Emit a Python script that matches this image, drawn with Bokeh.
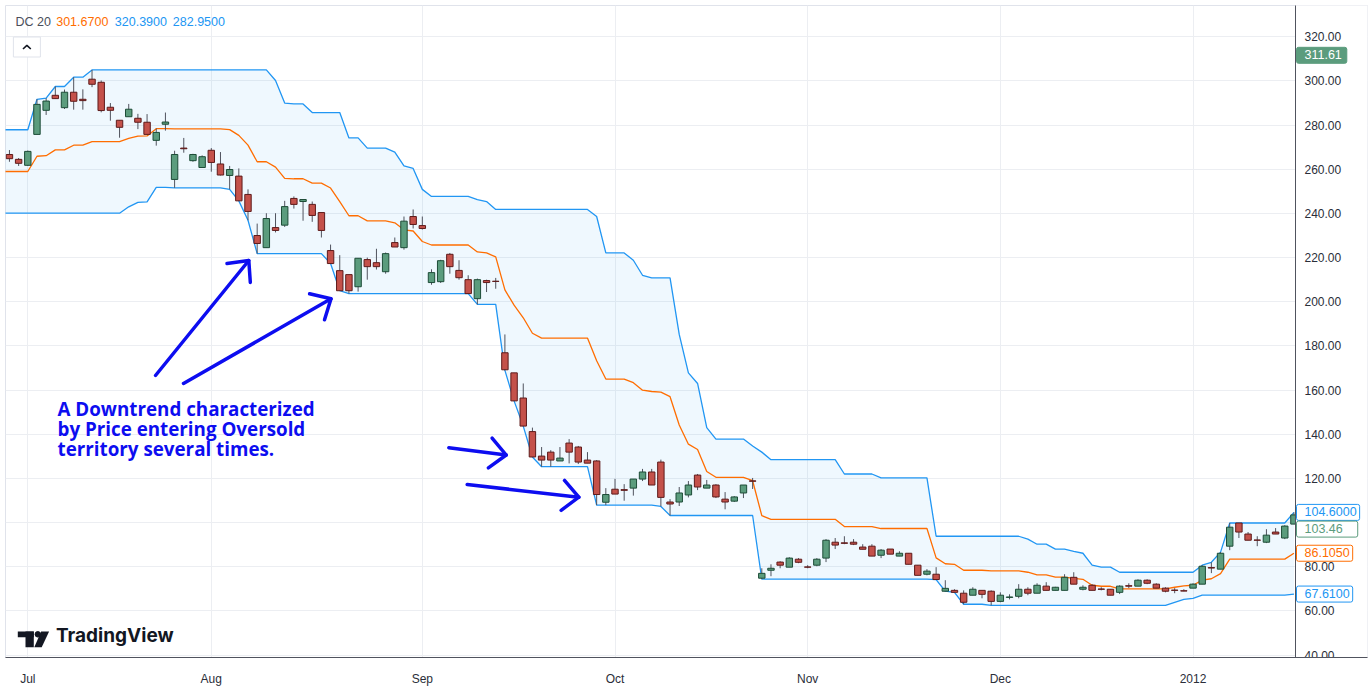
import math
from bokeh.plotting import figure
from bokeh.models import ColumnDataSource, FixedTicker, Label, Range1d
from bokeh.core.properties import value
from bokeh.embed import file_html
from bokeh.resources import INLINE

# ---------------- data ----------------
month_labels = ["Jul", "Aug", "Sep", "Oct", "Nov", "Dec", "2012"]
month_bars = [2, 22, 45, 66, 87, 108, 129]
price_ticks = [40, 60, 80, 100, 120, 140, 160, 180, 200, 220, 240, 260, 280, 300, 320]

# June 2011 bars (off screen) - only seed the 20-bar Donchian window
june_high = [271.0, 268.5, 266.0, 269.0, 272.5, 277.9, 270.0, 263.5, 259.0, 255.0,
             251.5, 250.0, 249.0, 252.0, 255.5, 257.0, 262.0, 264.0, 266.5, 268.0]
june_low = [262.0, 259.5, 257.0, 260.0, 263.0, 264.0, 256.0, 250.5, 248.0, 246.5,
            244.0, 242.5, 241.0, 240.1, 243.0, 245.0, 245.2, 253.0, 251.8, 258.0]

opens = [
    266.7, 264.5, 261.8, 275.8, 286.7, 293.5, 287.9, 294.9, 291.7, 300.8,
    299.4, 288.1, 282.2, 283.8, 283.1, 281.3, 273.1, 280.4, 255.4, 269.6,
    263.9, 260.8, 268.6, 262.4, 257.2, 256.9, 248.6, 230.0, 224.5, 233.6,
    234.7, 246.8, 245.4, 244.1, 240.4, 223.2, 214.1, 212.3, 206.8, 219.1,
    217.7, 213.6, 226.8, 224.5, 238.6, 234.5, 208.7, 209.1, 221.5, 214.2,
    210.0, 201.4, 209.6, 209.3, 176.9, 167.8, 156.4, 141.2, 130.1, 131.9,
    127.9, 136.0, 134.2, 128.3, 127.9, 109.2, 115.1, 114.9, 115.6, 119.7,
    122.9, 127.4, 109.3, 109.3, 112.5, 121.5, 115.6, 117.0, 110.6, 109.7,
    113.4, 118.9, 74.8, 78.4, 82.1, 79.8, 83.4, 79.9, 80.7, 83.9,
    91.1, 90.8, 91.1, 88.9, 89.3, 85.2, 88.0, 84.8, 86.1, 80.7,
    76.6, 76.6, 68.9, 69.3, 68.0, 67.1, 69.3, 68.9, 64.3, 66.1,
    66.6, 69.8, 68.0, 71.2, 69.3, 69.3, 75.2, 69.8, 71.6, 69.9,
    69.8, 68.4, 71.4, 71.2, 73.9, 72.1, 70.3, 69.4, 69.1, 70.3,
    72.1, 79.6, 78.9, 89.3, 99.8, 94.8, 92.1, 91.1, 95.7, 93.0,
    99.3]
highs = [
    268.7, 265.1, 268.5, 291.7, 292.2, 297.5, 296.1, 301.7, 296.2, 305.0,
    300.2, 290.0, 282.2, 289.6, 285.1, 285.0, 278.5, 285.7, 268.4, 274.2,
    267.0, 266.3, 269.6, 267.8, 261.5, 260.4, 250.9, 235.4, 240.1, 240.1,
    245.7, 247.7, 246.3, 245.4, 240.4, 225.9, 221.1, 212.3, 219.7, 220.0,
    224.0, 222.3, 229.1, 238.6, 241.8, 238.6, 214.7, 219.0, 222.1, 218.8,
    212.0, 210.5, 210.0, 210.8, 185.2, 167.8, 163.0, 143.0, 134.2, 132.8,
    134.2, 137.8, 134.7, 131.9, 128.3, 115.6, 119.8, 117.4, 119.7, 124.3,
    124.3, 128.5, 110.6, 116.1, 118.8, 122.0, 119.3, 117.4, 113.8, 112.0,
    117.0, 120.2, 79.3, 81.1, 82.5, 84.3, 83.9, 80.7, 83.9, 92.5,
    93.0, 93.8, 92.5, 90.2, 90.2, 88.0, 88.0, 87.0, 86.1, 80.7,
    78.9, 79.8, 73.9, 69.8, 69.3, 70.7, 69.3, 69.3, 68.4, 67.5,
    72.1, 70.7, 72.5, 73.0, 70.9, 76.6, 77.5, 71.6, 72.1, 70.7,
    69.8, 71.6, 72.5, 74.3, 74.3, 72.5, 70.7, 70.3, 69.8, 72.5,
    80.7, 82.0, 86.6, 99.8, 99.8, 95.7, 93.8, 97.0, 97.5, 98.8,
    104.6]
lows = [
    263.4, 261.5, 261.5, 275.8, 284.6, 292.0, 287.3, 287.0, 287.0, 297.2,
    285.8, 282.0, 274.3, 283.8, 278.2, 275.8, 270.7, 277.5, 251.6, 267.5,
    263.4, 260.8, 258.9, 257.2, 250.9, 245.7, 236.9, 221.8, 224.5, 231.4,
    233.9, 242.2, 236.7, 236.2, 229.1, 217.3, 205.0, 203.7, 204.6, 210.0,
    214.6, 212.7, 224.8, 223.6, 233.2, 232.7, 207.7, 208.5, 212.7, 210.0,
    203.7, 198.8, 204.4, 205.9, 168.9, 155.1, 143.7, 129.7, 125.3, 125.3,
    127.9, 126.8, 126.5, 126.9, 107.9, 107.9, 112.9, 109.9, 112.2, 118.8,
    117.0, 107.3, 103.2, 107.5, 111.4, 114.7, 115.6, 111.1, 106.0, 109.3,
    111.1, 115.2, 74.4, 75.7, 79.3, 79.8, 81.6, 79.3, 80.2, 82.1,
    88.0, 90.2, 89.8, 87.9, 84.8, 83.9, 85.7, 84.8, 81.1, 76.1,
    76.1, 74.2, 68.9, 68.4, 63.0, 67.1, 65.7, 62.5, 63.9, 65.2,
    65.7, 67.1, 68.0, 69.3, 69.3, 69.3, 72.1, 69.3, 69.3, 69.3,
    67.1, 67.61, 70.3, 71.2, 72.1, 70.3, 68.4, 68.0, 68.9, 70.3,
    72.1, 77.1, 78.9, 87.5, 93.0, 92.0, 89.3, 90.7, 94.8, 92.5,
    99.3]
closes = [
    264.8, 262.7, 268.1, 289.4, 290.9, 292.0, 294.9, 290.8, 291.1, 298.5,
    286.6, 286.7, 279.0, 287.2, 281.3, 275.8, 276.7, 281.4, 266.7, 269.3,
    266.7, 265.7, 263.1, 257.4, 259.9, 245.7, 240.9, 226.4, 237.7, 232.3,
    243.1, 244.1, 246.3, 239.1, 232.3, 217.3, 205.0, 205.0, 219.7, 215.9,
    215.9, 221.8, 224.8, 236.5, 235.0, 233.2, 213.2, 218.6, 215.9, 210.9,
    203.7, 210.0, 208.7, 209.2, 169.2, 155.1, 143.7, 129.7, 128.3, 128.3,
    129.2, 131.9, 127.4, 126.9, 112.7, 112.7, 112.9, 114.6, 119.7, 122.9,
    117.0, 111.4, 108.4, 113.4, 117.0, 116.1, 117.0, 111.6, 109.3, 111.6,
    117.0, 118.7, 77.0, 79.3, 80.7, 83.9, 82.0, 79.8, 83.4, 92.0,
    89.8, 90.6, 90.2, 87.9, 84.8, 87.5, 85.7, 86.1, 81.1, 76.1,
    78.0, 74.2, 70.2, 68.4, 63.9, 69.8, 67.5, 64.3, 67.1, 66.3,
    69.8, 68.0, 71.6, 69.3, 70.7, 75.2, 72.1, 70.7, 69.3, 69.8,
    67.1, 71.2, 71.2, 73.9, 72.5, 70.3, 68.9, 69.3, 69.0, 72.1,
    80.2, 79.4, 86.1, 97.9, 95.7, 92.0, 92.0, 94.3, 94.8, 98.4,
    103.46]

dc_length = 20
legend_values = ["301.6700", "320.3900", "282.9500"]
tag_close = 103.46
tag_cursor = 311.61

# ---------------- Donchian channel ----------------
full_high = june_high + highs
full_low = june_low + lows
n_pre = len(june_high)
band_x, upper, lower, basis = [], [], [], []
for i in range(-1, len(highs)):
    k = i + n_pre
    hi = max(full_high[k - dc_length + 1:k + 1])
    lo = min(full_low[k - dc_length + 1:k + 1])
    band_x.append(i)
    upper.append(hi)
    lower.append(lo)
    basis.append((hi + lo) / 2)

# ---------------- styling helpers (pixel -> data, for annotation placement) ----------------
X0, DX = 8.95, 9.175          # pixel of bar 0, pixels per bar
def px2x(px):
    return (px - X0) / DX
def px2y(py):
    return 320 - (py - 36.3) / 2.208

GREEN_F, GREEN_L = "#5b9c7d", "#1d4c37"
RED_F, RED_L = "#c4514a", "#5e1b1b"
BLUE, ORANGE = "#2196f3", "#ff6d00"
NOTE = "#0d0df0"
AXIS = "#50535e"
FONT = "Liberation Sans"

Y_BOT, Y_TOP = px2y(657), px2y(5)
p = figure(frame_width=1362, frame_height=652,
           x_range=Range1d(px2x(5), px2x(1367)),
           y_range=Range1d(Y_BOT, Y_TOP),
           output_backend="svg", toolbar_location=None,
           y_axis_location="right",
           min_border_left=5, min_border_top=5, min_border_right=5, min_border_bottom=30)
p.background_fill_color = "white"
p.border_fill_color = "white"
p.outline_line_color = "#e0e3eb"

p.xgrid.grid_line_color = "#eceef2"
p.ygrid.grid_line_color = "#eceef2"

p.xaxis.ticker = FixedTicker(ticks=month_bars)
p.xaxis.major_label_overrides = {b: m for b, m in zip(month_bars, month_labels)}
p.yaxis.ticker = FixedTicker(ticks=price_ticks)
p.yaxis.visible = False
ax = p.xaxis[0]
ax.axis_line_color = AXIS
ax.major_tick_line_color = None
ax.minor_tick_line_color = None
ax.major_label_text_font = FONT
ax.major_label_text_font_size = "12px"
ax.major_label_text_color = "#2a2e39"
ax.major_label_standoff = 8

# channel
p.varea(x=band_x, y1=lower, y2=upper, fill_color=BLUE, fill_alpha=0.07)
p.line(band_x, upper, line_color=BLUE, line_width=1.3)
p.line(band_x, lower, line_color=BLUE, line_width=1.3)
p.line(band_x, basis, line_color=ORANGE, line_width=1.3)

# candles
xs = list(range(len(opens)))
up = [c >= o for o, c in zip(opens, closes)]
src = ColumnDataSource(dict(
    x=xs, high=highs, low=lows,
    top=[max(o, c) for o, c in zip(opens, closes)],
    bottom=[min(o, c) for o, c in zip(opens, closes)],
    fill=[GREEN_F if u else RED_F for u in up],
    edge=[GREEN_L if u else RED_L for u in up],
))
p.segment(x0="x", y0="low", x1="x", y1="high", source=src, line_color=AXIS, line_width=1)
p.vbar(x="x", width=0.7, top="top", bottom="bottom", source=src,
       fill_color="fill", line_color="edge", line_width=1)

# price scale panel (right of the chart)
SCALE_L = px2x(1295)
p.quad(left=[SCALE_L], right=[px2x(1370)], top=[Y_TOP + 5], bottom=[Y_BOT - 5],
       fill_color="white", line_color=None)
p.segment(x0=[SCALE_L], y0=[Y_BOT - 5], x1=[SCALE_L], y1=[Y_TOP + 5], line_color=AXIS, line_width=1)
p.text(x=[px2x(1304)] * len(price_ticks), y=price_ticks, text=["%.2f" % t for t in price_ticks],
       text_baseline="middle", text_align="left", text_font=value(FONT),
       text_font_size="12px", text_color="#2a2e39")

# legend (top-left)
p.add_layout(Label(x=px2x(15), y=px2y(21), text="DC 20", text_color="#4a4e5a",
                   text_font=FONT, text_font_size="12.5px", text_baseline="middle"))
for txt, px, col in zip(legend_values, [55.7, 114.3, 172.3], [ORANGE, BLUE, BLUE]):
    p.add_layout(Label(x=px2x(px), y=px2y(21), text=txt, text_color=col,
                       text_font=FONT, text_font_size="12.5px", text_baseline="middle"))
# collapse button
p.rect(x=[px2x(26.4)], y=[px2y(46.5)], width=27, height=20, width_units="screen",
       height_units="screen", fill_color="white", line_color="#e0e3eb")
p.line([px2x(22.5), px2x(26.4), px2x(30.3)], [px2y(48.5), px2y(44.8), px2y(48.5)],
       line_color="#131722", line_width=1.6)

# TradingView logo
p.quad(left=[px2x(17.3), px2x(25.0)], right=[px2x(33.3), px2x(33.3)],
       top=[px2y(631), px2y(631)], bottom=[px2y(636.7), px2y(646.7)],
       fill_color="#131722", line_color=None)
p.scatter([px2x(37.3)], [px2y(633.8)], size=5.5, color="#131722")
p.patch([px2x(40.6), px2x(48.6), px2x(41.2), px2x(33.8)],
        [px2y(631), px2y(631), px2y(646.7), px2y(646.7)], fill_color="#131722", line_color=None)
p.add_layout(Label(x=px2x(55.5), y=px2y(646.5), text="TradingView", text_color="#131722",
                   text_font="Inter", text_font_style="bold", text_font_size="19px"))

# note text
for txt, py in zip(["A Downtrend characterized", "by Price entering Oversold",
                    "territory several times."], [421, 441.5, 461]):
    p.add_layout(Label(x=px2x(57), y=px2y(py), text=txt, text_color=NOTE,
                       text_font="Open Sans", text_font_style="bold", text_font_size="18.8px"))

# arrows
arrows = [((155, 375), (248.3, 260)), ((183, 383), (330.5, 298.3)),
          ((448.3, 447.3), (505.7, 454.5)), ((466.7, 484), (578.3, 496.7))]
axs, ays = [], []
for tail, tip in arrows:
    axs.append([px2x(tail[0]), px2x(tip[0])])
    ays.append([px2y(tail[1]), px2y(tip[1])])
    dx, dy = tail[0] - tip[0], tail[1] - tip[1]
    n = math.hypot(dx, dy)
    ux, uy = dx / n, dy / n
    pts = []
    for s in (1, -1):
        a = math.radians(43) * s
        rx = ux * math.cos(a) - uy * math.sin(a)
        ry = ux * math.sin(a) + uy * math.cos(a)
        pts.append((tip[0] + 22 * rx, tip[1] + 22 * ry))
    axs.append([px2x(pts[0][0]), px2x(tip[0]), px2x(pts[1][0])])
    ays.append([px2y(pts[0][1]), px2y(tip[1]), px2y(pts[1][1])])
p.multi_line(axs, ays, line_color=NOTE, line_width=3.5, line_cap="round", line_join="round")

# price scale tags
tx = px2x(1296)
def tag(y, text, color, filled=False, right=3):
    p.add_layout(Label(x=tx, y=y, text=text, text_baseline="middle",
                       text_color="white" if filled else color,
                       text_font=FONT, text_font_size="12.5px",
                       background_fill_color=color if filled else "white",
                       border_line_color=color,
                       padding=dict(left=8, right=right, top=3, bottom=4), border_radius=2))
tag(tag_cursor, "311.61", GREEN_F, filled=True, right=5)
tag(upper[-1], "%.4f" % upper[-1], BLUE)
tag(upper[-1] - 16.7 / 2.208, "%.2f" % tag_close, GREEN_F, right=15)
tag(basis[-1], "%.4f" % basis[-1], ORANGE)
tag(lower[-1], "%.4f" % lower[-1], BLUE)

open("out.html", "w").write(file_html(p, INLINE))
